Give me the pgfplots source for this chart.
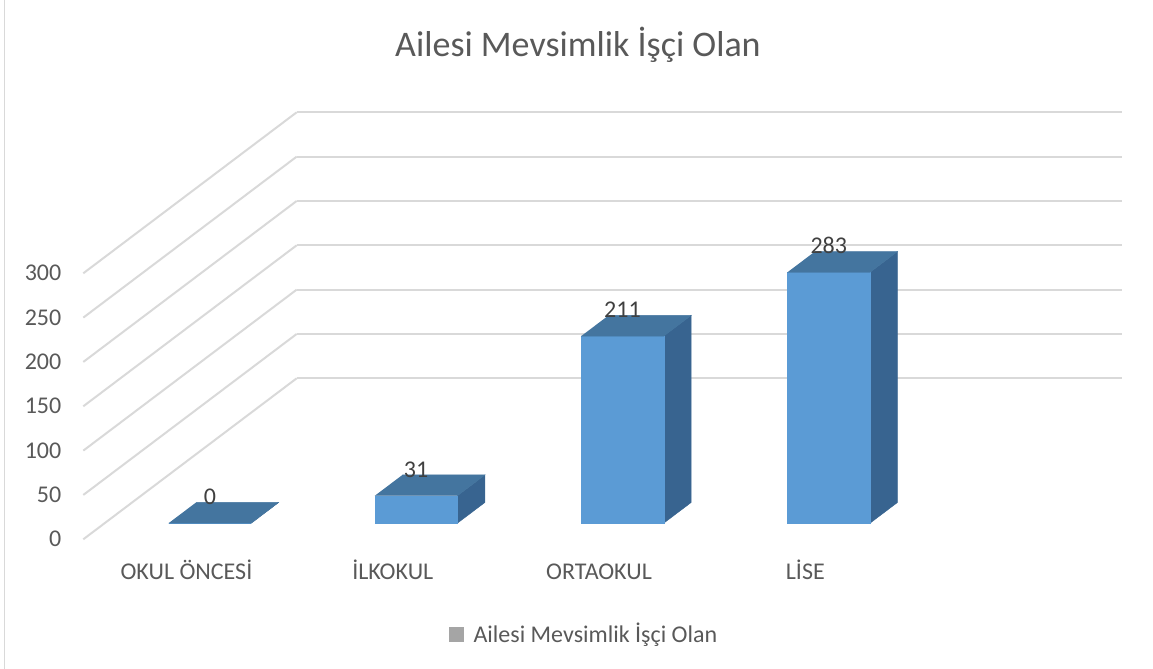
\documentclass[border=0pt]{standalone}
\usepackage{pgfplots}
\pgfplotsset{compat=1.18}
\usepackage{fontspec}
\setmainfont{Carlito}
\definecolor{gridgray}{HTML}{D9D9D9}
\definecolor{txtgray}{HTML}{595959}
\definecolor{lbl}{HTML}{404040}
\definecolor{frontc}{HTML}{5B9BD5}
\definecolor{topc}{HTML}{44759F}
\definecolor{sidec}{HTML}{386490}
\definecolor{leggray}{HTML}{A5A5A5}
\begin{document}
\begin{tikzpicture}
\begin{axis}[
  x={(103.15pt,0pt)}, y={(106.7pt,80.5pt)}, z={(0pt,0.44335pt)},
  xmin=0, xmax=4, ymin=0, ymax=1, zmin=0, zmax=300,
  clip=false,
  axis line style={draw=none},
  xtick={0.5,1.5,2.5,3.5},
  xticklabels={OKUL ÖNCESİ,İLKOKUL,ORTAOKUL,LİSE},
  ytick=\empty,
  ztick={0,50,100,150,200,250,300},
  zmajorgrids,
  major grid style={gridgray, line width=1pt},
  major tick length=0pt,
  tick style={draw=none},
  /pgf/number format/assume math mode=true,
  ticklabel style={font=\fontsize{12}{14}\selectfont, text=txtgray, inner sep=0pt},
  xticklabel style={anchor=base, yshift=-20pt},
  zticklabel style={anchor=base east, xshift=-10.8pt, yshift=-3.8pt},
  legend style={at={(axis cs:2.432,0,-106.8)}, anchor=center, draw=none, fill=none,
    font=\fontsize{12}{14}\selectfont, text=txtgray, inner sep=0pt, column sep=3pt},
  legend image code/.code={\fill[leggray] (0pt,-3.5pt) rectangle (7pt,3.5pt);},
]
\addlegendimage{leggray}
\addlegendentry{Ailesi Mevsimlik İşçi Olan}
\coordinate (O) at (axis cs:0,0,0);
% OKUL ONCESI (0)
\addplot3[fill=sidec, draw=sidec, line width=0.2pt] coordinates {(0.71,0.1,0) (0.71,0.229,0) (0.71,0.229,0) (0.71,0.1,0)};
\addplot3[fill=frontc, draw=frontc, line width=0.2pt] coordinates {(0.31,0.1,0) (0.71,0.1,0) (0.71,0.1,0) (0.31,0.1,0)};
\addplot3[fill=topc, draw=topc, line width=0.2pt] coordinates {(0.31,0.1,0) (0.71,0.1,0) (0.71,0.229,0) (0.31,0.229,0)};
% ILKOKUL (31)
\addplot3[fill=sidec, draw=sidec, line width=0.2pt] coordinates {(1.71,0.1,0) (1.71,0.229,0) (1.71,0.229,31) (1.71,0.1,31)};
\addplot3[fill=frontc, draw=frontc, line width=0.2pt] coordinates {(1.31,0.1,0) (1.71,0.1,0) (1.71,0.1,31) (1.31,0.1,31)};
\addplot3[fill=topc, draw=topc, line width=0.2pt] coordinates {(1.31,0.1,31) (1.71,0.1,31) (1.71,0.229,31) (1.31,0.229,31)};
% ORTAOKUL (211)
\addplot3[fill=sidec, draw=sidec, line width=0.2pt] coordinates {(2.71,0.1,0) (2.71,0.229,0) (2.71,0.229,211) (2.71,0.1,211)};
\addplot3[fill=frontc, draw=frontc, line width=0.2pt] coordinates {(2.31,0.1,0) (2.71,0.1,0) (2.71,0.1,211) (2.31,0.1,211)};
\addplot3[fill=topc, draw=topc, line width=0.2pt] coordinates {(2.31,0.1,211) (2.71,0.1,211) (2.71,0.229,211) (2.31,0.229,211)};
% LISE (283)
\addplot3[fill=sidec, draw=sidec, line width=0.2pt] coordinates {(3.71,0.1,0) (3.71,0.229,0) (3.71,0.229,283) (3.71,0.1,283)};
\addplot3[fill=frontc, draw=frontc, line width=0.2pt] coordinates {(3.31,0.1,0) (3.71,0.1,0) (3.71,0.1,283) (3.31,0.1,283)};
\addplot3[fill=topc, draw=topc, line width=0.2pt] coordinates {(3.31,0.1,283) (3.71,0.1,283) (3.71,0.229,283) (3.31,0.229,283)};
% data labels
\addplot3[draw=none, point meta=z, nodes near coords,
  every node near coord/.append style={anchor=base, yshift=9.3pt, inner sep=0pt,
    font=\fontsize{12}{14}\selectfont, text=lbl}]
  coordinates {(0.51,0.1,0) (1.51,0.1,31) (2.51,0.1,211) (3.51,0.1,283)};
\node[anchor=base, inner sep=0pt, font=\fontsize{18}{21}\selectfont, text=txtgray]
  at (axis cs:2.398,0,544.3) {Ailesi Mevsimlik İşçi Olan};
\end{axis}
\draw[gridgray, line width=0.75pt] ([shift={(-39.4pt,-64.85pt)}]O) -- ([shift={(-39.4pt,269.65pt)}]O);
\pgfresetboundingbox
\path ([shift={(-41.65pt,-64.85pt)}]O) rectangle ([shift={(534.85pt,269.65pt)}]O);
\end{tikzpicture}
\end{document}
